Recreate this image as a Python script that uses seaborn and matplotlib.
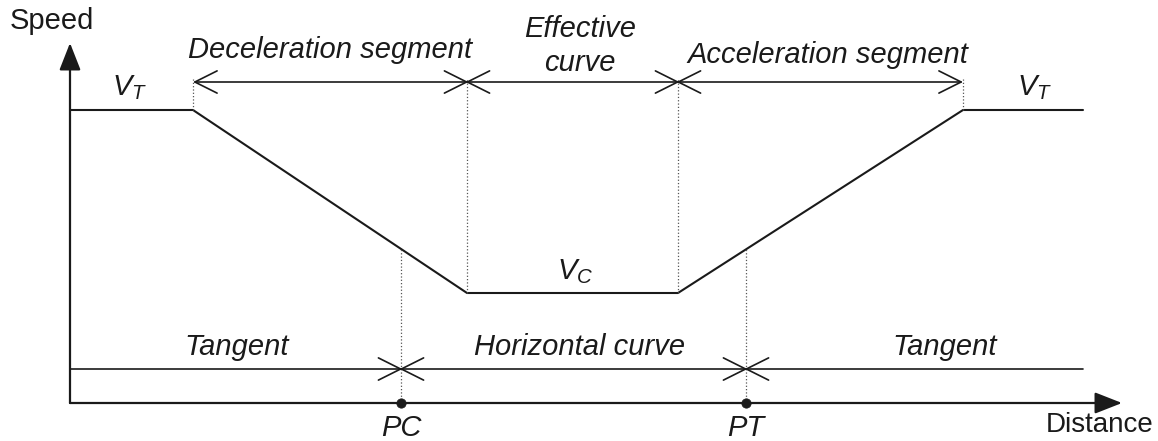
import matplotlib
matplotlib.use('Agg')
import matplotlib.pyplot as plt
import seaborn as sns

# speed profile through a horizontal curve (distance / speed in drawing units)
distance = [0, 123, 397, 608, 893, 1013]
speed = [293, 293, 110, 110, 293, 293]

# segment limits along the speed-profile dimension line
segment_edges = [123, 397, 608, 893]
segment_labels = ['Deceleration segment', 'Effective\ncurve', 'Acceleration segment']

# horizontal alignment: tangent / curve / tangent
alignment_edges = [0, 331, 676, 1013]
alignment_labels = ['Tangent', 'Horizontal curve', 'Tangent']
point_names = ['PC', 'PT']

sns.set_style('white')
plt.rcParams['font.family'] = ['Liberation Sans', 'DejaVu Sans']
plt.rcParams['mathtext.fontset'] = 'custom'
plt.rcParams['mathtext.it'] = 'Liberation Sans:italic'
plt.rcParams['mathtext.rm'] = 'Liberation Sans'

fig = plt.figure(figsize=(11.58, 4.41), dpi=100)
ax = fig.add_axes([0, 0, 1, 1])
ax.set_xlim(-70, 1088)
ax.set_ylim(-38, 403)
ax.axis('off')

ink = '#1a1a1a'
fs = 21

# axes with filled arrow heads
ax.annotate('', xy=(0, 360), xytext=(0, 0),
            arrowprops=dict(arrowstyle='-|>,head_length=1.4,head_width=0.55', color=ink, lw=1.6,
                            shrinkA=0, shrinkB=0, mutation_scale=12))
ax.annotate('', xy=(1052, 0), xytext=(0, 0),
            arrowprops=dict(arrowstyle='-|>,head_length=1.4,head_width=0.55', color=ink, lw=1.6,
                            shrinkA=0, shrinkB=0, mutation_scale=12))
ax.text(-18, 382, 'Speed', fontsize=21, color=ink, ha='center', va='center')
ax.text(1030, -22, 'Distance', fontsize=20, color=ink, ha='center', va='center')

# speed profile
sns.lineplot(x=distance, y=speed, color=ink, lw=1.5, ax=ax)

open_head = 'head_length=1.6,head_width=0.8'


def dim_arrow(x0, x1, y, style):
    ax.annotate('', xy=(x1, y), xytext=(x0, y),
                arrowprops=dict(arrowstyle=style + ',' + open_head, color=ink, lw=1.2,
                                shrinkA=0, shrinkB=0, mutation_scale=10))


# dimension line for the segments
dim_y = 321
for i in range(len(segment_labels)):
    x0 = segment_edges[i] - (1.5 if i > 0 else 0)
    x1 = segment_edges[i + 1] + (1.5 if i < 2 else 0)
    dim_arrow(x0, x1, dim_y, '<->')
for x in segment_edges:
    y_prof = speed[distance.index(x)]
    ax.plot([x, x], [y_prof, dim_y + 3], ls=':', color='#555555', lw=0.9)

ax.text(260, 353, segment_labels[0], fontsize=fs, style='italic', color=ink, ha='center', va='center')
ax.text(510, 357, segment_labels[1], fontsize=fs, style='italic', color=ink, ha='center', va='center',
        linespacing=1.25)
ax.text(758, 348, segment_labels[2], fontsize=fs, style='italic', color=ink, ha='center', va='center')

ax.text(60, 315, r'$V_T$', fontsize=fs, color=ink, ha='center', va='center')
ax.text(965, 315, r'$V_T$', fontsize=fs, color=ink, ha='center', va='center')
ax.text(505, 131, r'$V_C$', fontsize=fs, color=ink, ha='center', va='center')

# alignment line with PC / PT
tan_y = 34
dim_arrow(alignment_edges[0], alignment_edges[1] + 1.5, tan_y, '->')
dim_arrow(alignment_edges[1] - 1.5, alignment_edges[2] + 1.5, tan_y, '<->')
dim_arrow(alignment_edges[2] - 1.5, alignment_edges[3], tan_y, '<-')
label_x = [167, 510, 875]
for lx, lab in zip(label_x, alignment_labels):
    ax.text(lx, 56, lab, fontsize=fs, style='italic', color=ink, ha='center', va='center')

pts = alignment_edges[1:3]
for x, name in zip(pts, point_names):
    # vertical dotted guide from speed profile to the distance axis
    if x < 500:
        y_top = speed[1] + (x - distance[1]) / (distance[2] - distance[1]) * (speed[2] - speed[1])
    else:
        y_top = speed[3] + (x - distance[3]) / (distance[4] - distance[3]) * (speed[4] - speed[3])
    ax.plot([x, x], [0, y_top], ls=':', color='#555555', lw=0.9)
    ax.text(x, -25, name, fontsize=fs, style='italic', color=ink, ha='center', va='center')
sns.scatterplot(x=pts, y=[0, 0], color=ink, s=45, ax=ax, zorder=5, edgecolor=ink)

fig.savefig('out.png', dpi=100)
